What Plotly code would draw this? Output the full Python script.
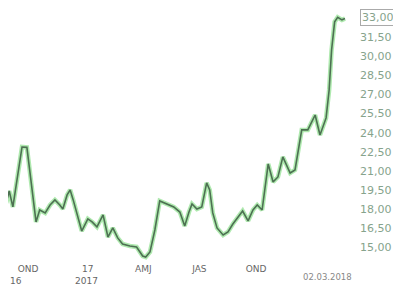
import plotly.graph_objects as go

dates = [
    "2016-08-23", "2016-08-28", "2016-09-03", "2016-09-18", "2016-09-26", "2016-10-11",
    "2016-10-17", "2016-10-26", "2016-11-03", "2016-11-11", "2016-11-19", "2016-11-24",
    "2016-12-01", "2016-12-06", "2016-12-11", "2016-12-16", "2016-12-25", "2017-01-04",
    "2017-01-11", "2017-01-19", "2017-01-29", "2017-02-06", "2017-02-14", "2017-02-22",
    "2017-03-02", "2017-03-14", "2017-03-25", "2017-04-04", "2017-04-09", "2017-04-16",
    "2017-04-24", "2017-05-02", "2017-05-14", "2017-05-25", "2017-06-04", "2017-06-12",
    "2017-06-19", "2017-06-24", "2017-07-02", "2017-07-10", "2017-07-18", "2017-07-23",
    "2017-07-28", "2017-08-04", "2017-08-14", "2017-08-22", "2017-08-30", "2017-09-07",
    "2017-09-15", "2017-09-24", "2017-10-02", "2017-10-09", "2017-10-17", "2017-10-27",
    "2017-11-04", "2017-11-12", "2017-11-20", "2017-12-02", "2017-12-10", "2017-12-21",
    "2017-12-31", "2018-01-12", "2018-01-20", "2018-01-30", "2018-02-04", "2018-02-08",
    "2018-02-13", "2018-02-18", "2018-02-25", "2018-03-02",
]
prices = [
    18.49, 19.43, 18.18, 22.88, 22.85, 17.00,
    17.94, 17.71, 18.33, 18.73, 18.33, 18.02,
    19.12, 19.51, 18.73, 17.78, 16.29, 17.24,
    17.00, 16.61, 17.55, 15.82, 16.53, 15.75,
    15.27, 15.12, 15.04, 14.33, 14.25, 14.65,
    16.37, 18.65, 18.41, 18.18, 17.78, 16.69,
    17.78, 18.41, 18.02, 18.18, 20.06, 19.51,
    17.71, 16.53, 15.98, 16.22, 16.84, 17.39,
    17.86, 17.08, 17.94, 18.33, 17.94, 21.55,
    20.14, 20.53, 22.10, 20.84, 21.08, 24.22,
    24.22, 25.39, 23.82, 25.16, 27.35, 30.49,
    32.69, 33.05, 32.85, 32.95,
]

x_tick_dates = ["2016-09-28", "2017-01-04", "2017-04-05", "2017-07-06", "2017-10-07"]
x_tick_labels = ["OND", "17", "AMJ", "JAS", "OND"]
y_tick_values = [15.0, 16.5, 18.0, 19.5, 21.0, 22.5, 24.0, 25.5, 27.0, 28.5, 30.0, 31.5]
last_label = "33,00"
last_value = 33.0
date_label = "02.03.2018"

fig = go.Figure()
fig.add_trace(go.Scatter(x=dates, y=prices, mode="lines",
                         line=dict(color="rgba(110,215,110,0.55)", width=4.5),
                         hoverinfo="skip", showlegend=False))
fig.add_trace(go.Scatter(x=dates, y=prices, mode="lines",
                         line=dict(color="#4d7052", width=1.6),
                         showlegend=False))

fig.update_layout(
    width=393, height=279,
    margin=dict(l=0, r=42, t=0, b=25),
    paper_bgcolor="white", plot_bgcolor="white",
    separators=",.",
    font=dict(family="DejaVu Sans"),
    xaxis=dict(type="date", range=["2016-08-26", "2018-03-25"], automargin=False,
               tickvals=x_tick_dates, ticktext=x_tick_labels,
               tickfont=dict(size=9, color="#666666"),
               showgrid=False, zeroline=False, showline=False, ticks=""),
    yaxis=dict(side="right", range=[13.86, 33.78], automargin=False,
               tickvals=y_tick_values, tickformat=".2f",
               tickfont=dict(size=11, color="#86a38c"),
               showgrid=False, zeroline=False, showline=False, ticks=""),
    annotations=[
        dict(text="16", xref="paper", yref="paper", x=0.0, y=-0.075,
             xanchor="left", yanchor="middle",
             showarrow=False, font=dict(size=9, color="#666666")),
        dict(text="2017", xref="paper", yref="paper", x=0.225, y=-0.075,
             xanchor="center", yanchor="middle",
             showarrow=False, font=dict(size=9, color="#666666")),
        dict(text=date_label, xref="paper", yref="paper", x=0.909, y=-0.06,
             xanchor="center", yanchor="middle",
             showarrow=False, font=dict(size=8.5, color="#888888")),
        dict(text=last_label, xref="paper", yref="y", x=1, y=last_value,
             xanchor="left", xshift=1, showarrow=False,
             bgcolor="white", bordercolor="#aaaaaa", borderwidth=1, borderpad=1,
             font=dict(size=11, color="#86a38c")),
    ],
    shapes=[
        dict(type="rect", xref="paper", yref="y", x0=1.105, x1=1.114,
             y0=last_value - 0.2, y1=last_value + 0.2,
             fillcolor="#444444", line=dict(width=0)),
    ],
)

fig.write_html("out.html")
